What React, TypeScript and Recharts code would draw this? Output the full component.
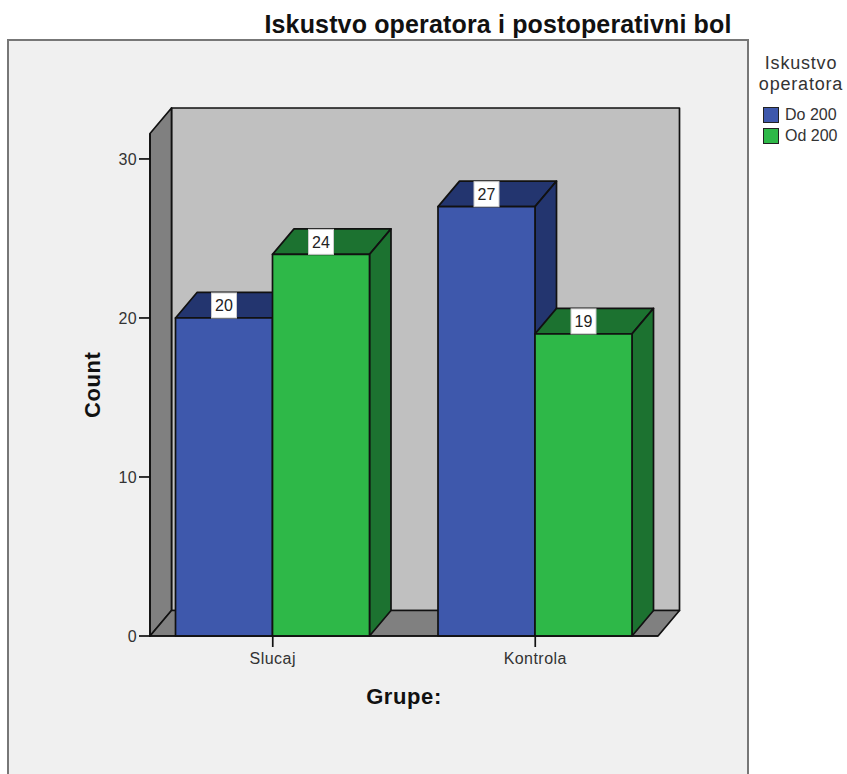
import React from "react";
import { BarChart, Bar, XAxis, YAxis, Legend, LabelList, Label, usePlotArea } from "recharts";

const categories = ["Slucaj", "Kontrola"];
const do200 = [20, 27];
const od200 = [24, 19];
const yTicks = [0, 10, 20, 30];
const titleText = "Iskustvo operatora i postoperativni bol";
const legendTitle = ["Iskustvo", "operatora"];
const yMax = 31.6;

const rows = categories.map((grupa, i) => ({ grupa, do200: do200[i], od200: od200[i] }));

const DX = 21.5;
const DY = 25.5;
const FONT = "'Liberation Sans', Arial, sans-serif";
const INK = "#111";

const darker: Record<string, string> = { "#3e58ac": "#23356f", "#2eb848": "#1c7230" };

function Box3D(props: any) {
  const { x, y, width, height, fill } = props;
  const dark = darker[fill];
  const r = x + width;
  const b = y + height;
  return (
    <g stroke={INK} strokeWidth={1.7} strokeLinejoin="round">
      <polygon points={`${x},${y} ${x + DX},${y - DY} ${r + DX},${y - DY} ${r},${y}`} fill={dark} />
      <polygon points={`${r},${y} ${r + DX},${y - DY} ${r + DX},${b - DY} ${r},${b}`} fill={dark} />
      <rect x={x} y={y} width={width} height={height} fill={fill} />
    </g>
  );
}

function ValueBox(props: any) {
  const { x, y, width, value } = props;
  const cx = x + width / 2;
  return (
    <g>
      <rect x={cx - 12.5} y={y - 25} width={25} height={25} fill="#fff" stroke="#ccc" strokeWidth={1} />
      <text x={cx} y={y - 6.5} textAnchor="middle" fontFamily={FONT} fontSize={16} fill="#222">
        {value}
      </text>
    </g>
  );
}

function Scene() {
  const area = usePlotArea();
  if (!area) return null;
  const { x, y, width, height } = area;
  const r = x + width;
  const b = y + height;
  return (
    <g>
      <rect x={8} y={40} width={740} height={760} fill="#f0f0f0" stroke="#777" strokeWidth={2} />
      <text x={498} y={33} textAnchor="middle" fontFamily={FONT} fontWeight="bold" fontSize={25} letterSpacing={0.15} fill="#111">
        {titleText}
      </text>
      <g stroke={INK} strokeWidth={1.7} strokeLinejoin="round">
        <rect x={x + DX} y={y - DY} width={width} height={height} fill="#c0c0c0" />
        <polygon points={`${x},${y} ${x + DX},${y - DY} ${x + DX},${b - DY} ${x},${b}`} fill="#808080" />
        <polygon points={`${x},${b} ${x + DX},${b - DY} ${r + DX},${b - DY} ${r},${b}`} fill="#808080" />
      </g>
    </g>
  );
}

function LegendBlock(props: any) {
  const payload = props.payload || [];
  return (
    <div style={{ fontFamily: FONT, color: "#333" }}>
      {legendTitle.map((t) => (
        <div key={t} style={{ fontSize: 18, letterSpacing: 0.8, lineHeight: "21px", textAlign: "center" }}>
          {t}
        </div>
      ))}
      <div style={{ height: 9 }} />
      {payload.map((p: any) => (
        <div key={p.value} style={{ display: "flex", alignItems: "center", height: 21, fontSize: 16, paddingLeft: 8 }}>
          <span
            style={{
              display: "inline-block",
              width: 14,
              height: 14,
              background: p.color,
              border: "1.5px solid #222",
              marginRight: 6,
            }}
          />
          {p.value}
        </div>
      ))}
    </div>
  );
}

export default function App() {
  return (
    <div style={{ position: "absolute", left: 0, top: 0, width: 847, height: 774, overflow: "hidden", background: "#fff" }}>
      <BarChart
        width={847}
        height={774}
        data={rows}
        margin={{ top: 133.5, right: 189, bottom: 78, left: 90 }}
        barSize={97}
        barGap={0}
      >
        <Scene />
        <XAxis
          dataKey="grupa"
          padding={{ left: -8.5, right: -8.5 }}
          height={60}
          tickSize={11}
          tickMargin={6}
          stroke={INK}
          strokeWidth={1.7}
          tick={{ fontFamily: FONT, fontSize: 16, fill: "#333", letterSpacing: 0.45 }}
        >
          <Label value="Grupe:" position="insideTop" offset={52} style={{ fontFamily: FONT, fontWeight: "bold", fontSize: 22, fill: "#111", letterSpacing: 0.6 }} />
        </XAxis>
        <YAxis
          width={60}
          domain={[0, yMax]}
          ticks={yTicks}
          tickSize={11}
          tickMargin={2}
          stroke={INK}
          strokeWidth={1.7}
          tick={{ fontFamily: FONT, fontSize: 16, fill: "#333", letterSpacing: 0.4 }}
        >
          <Label value="Count" angle={-90} position="insideLeft" offset={2} style={{ fontFamily: FONT, fontWeight: "bold", fontSize: 22, fill: "#111", letterSpacing: 0.6, textAnchor: "middle" }} />
        </YAxis>
        <Legend
          layout="vertical"
          align="center"
          verticalAlign="middle"
          content={LegendBlock as any}
          wrapperStyle={{ left: 755, top: 53, width: 92, bottom: "auto", right: "auto" }}
        />
        <Bar dataKey="do200" name="Do 200" fill="#3e58ac" shape={Box3D} isAnimationActive={false}>
          <LabelList dataKey="do200" content={ValueBox as any} />
        </Bar>
        <Bar dataKey="od200" name="Od 200" fill="#2eb848" shape={Box3D} isAnimationActive={false}>
          <LabelList dataKey="od200" content={ValueBox as any} />
        </Bar>
      </BarChart>
    </div>
  );
}
